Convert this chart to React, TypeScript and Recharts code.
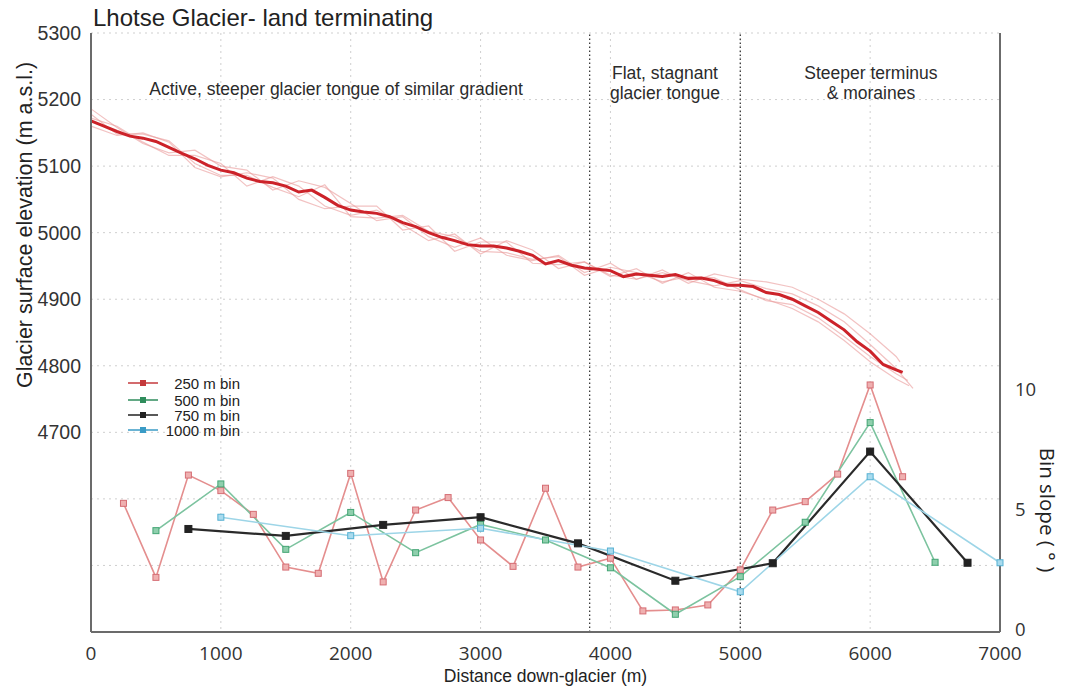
import { LineChart, Line, XAxis, YAxis, CartesianGrid, ReferenceLine, ReferenceDot, Legend } from 'recharts'

// centre-line surface profile (distance in m, elevation in m a.s.l.)
const profileDistance = [
  0, 100, 200, 300, 400, 500, 600, 700, 800, 900, 1000, 1100, 1200, 1300, 1400, 1500, 1600, 1700, 1800, 1900,
  2000, 2100, 2200, 2300, 2400, 2500, 2600, 2700, 2800, 2900, 3000, 3100, 3200, 3300, 3400, 3500, 3600, 3700,
  3800, 3900, 4000, 4100, 4200, 4300, 4400, 4500, 4600, 4700, 4800, 4900, 5000, 5100, 5200, 5300, 5400, 5500,
  5600, 5700, 5800, 5900, 6000, 6100, 6200, 6250,
]
const profileElevation = [
  5168, 5160, 5152, 5145, 5142, 5137, 5128, 5119, 5111, 5101, 5094, 5090, 5082, 5077, 5075, 5070, 5061, 5064, 5053, 5041,
  5034, 5031, 5029, 5024, 5015, 5009, 5000, 4993, 4988, 4982, 4980, 4980, 4977, 4972, 4966, 4953, 4958, 4951,
  4947, 4945, 4943, 4934, 4938, 4936, 4934, 4937, 4931, 4932, 4928, 4921, 4921, 4919, 4910, 4907, 4900, 4890,
  4880, 4867, 4854, 4836, 4822, 4802, 4794, 4790,
]

// individual DEM profiles drawn faintly behind the mean
const demDistance = [
  0, 200, 400, 600, 800, 1000, 1200, 1400, 1600, 1800, 2000, 2200, 2400, 2600, 2800, 3000, 3200, 3400, 3600, 3800,
  4000, 4200, 4400, 4600, 4800, 5000, 5200, 5400, 5600, 5800, 6000, 6200,
]
const demEnd = [6230, 6300, 6330, 6290]
const demA = [
  5186, 5158, 5134, 5120, 5124, 5100, 5094, 5064, 5078, 5068, 5044, 5018, 5024, 4994, 4978, 4992, 4966, 4958, 4966, 4940,
  4954, 4930, 4944, 4924, 4938, 4930, 4926, 4918, 4900, 4878, 4848, 4814, 4806,
]
const demB = [
  5160, 5146, 5150, 5136, 5098, 5084, 5090, 5082, 5050, 5036, 5040, 5040, 5004, 5010, 4972, 4986, 4986, 4954, 4952, 4956,
  4934, 4946, 4924, 4940, 4918, 4912, 4900, 4886, 4866, 4838, 4806, 4780, 4770,
]
const demC = [
  5172, 5160, 5136, 5116, 5116, 5104, 5070, 5084, 5070, 5040, 5026, 5034, 5012, 4988, 4998, 4968, 4988, 4974, 4946, 4956,
  4936, 4930, 4940, 4928, 4920, 4928, 4916, 4908, 4890, 4866, 4832, 4796, 4766,
]
const demD = [
  5178, 5148, 5148, 5138, 5104, 5086, 5086, 5068, 5054, 5072, 5024, 5022, 5026, 5002, 4994, 4972, 4970, 4960, 4964, 4936,
  4948, 4940, 4926, 4934, 4932, 4914, 4898, 4892, 4872, 4844, 4814, 4788, 4778,
]

// mean slope per bin (degrees), plotted at the bin's lower end
const bin250Dist = [
  250, 500, 750, 1000, 1250, 1500, 1750, 2000, 2250, 2500, 2750, 3000, 3250, 3500, 3750, 4000, 4250, 4500, 4750,
  5000, 5250, 5500, 5750, 6000, 6250,
]
const bin250Slope = [
  5.37, 2.28, 6.55, 5.9, 4.91, 2.71, 2.45, 6.62, 2.09, 5.09, 5.61, 3.84, 2.74, 6.0, 2.71, 3.08, 0.88, 0.92, 1.13,
  2.59, 5.09, 5.44, 6.59, 10.31, 6.48,
]
const bin500Dist = [500, 1000, 1500, 2000, 2500, 3000, 3500, 4000, 4500, 5000, 5500, 6000, 6500]
const bin500Slope = [4.23, 6.18, 3.45, 4.99, 3.31, 4.49, 3.84, 2.68, 0.74, 2.31, 4.58, 8.74, 2.91]
const bin750Dist = [750, 1500, 2250, 3000, 3750, 4500, 5250, 6000, 6750]
const bin750Slope = [4.3, 4.01, 4.47, 4.79, 3.7, 2.14, 2.87, 7.53, 2.89]
const bin1000Dist = [1000, 2000, 3000, 4000, 5000, 6000, 7000]
const bin1000Slope = [4.79, 4.02, 4.33, 3.38, 1.68, 6.48, 2.89]

const xTicks = [0, 1000, 2000, 3000, 4000, 5000, 6000, 7000]
const elevTicks = [4500, 4600, 4700, 4800, 4900, 5000, 5100, 5200, 5300]
const slopeTicks = [0, 5, 10]

// zone boundaries along the tongue
const zoneBreaks = [3840, 5000]

const toPoints = (xs: number[], ys: number[], key: string) => xs.map((x, i) => ({ d: x, [key]: ys[i] }))

const meanProfile = toPoints(profileDistance, profileElevation, 'e')
const demProfiles = [demA, demB, demC, demD].map((vals, k) =>
  toPoints([...demDistance, demEnd[k]], vals, 'e')
)

const bins = [
  { name: '250 m bin', data: toPoints(bin250Dist, bin250Slope, 's'), line: '#e48e8e', fill: '#efb0b0', edge: '#d56d74', key: '#c53a3c', width: 1.6, size: 6 },
  { name: '500 m bin', data: toPoints(bin500Dist, bin500Slope, 's'), line: '#7cc39f', fill: '#8fcfad', edge: '#43a574', key: '#2f8d5c', width: 1.6, size: 6 },
  { name: '750 m bin', data: toPoints(bin750Dist, bin750Slope, 's'), line: '#2a2a2a', fill: '#222222', edge: '#222222', key: '#222222', width: 2.2, size: 7 },
  { name: '1000 m bin', data: toPoints(bin1000Dist, bin1000Slope, 's'), line: '#9dd5e7', fill: '#a9dbee', edge: '#56b1d3', key: '#3a9bc6', width: 1.6, size: 6 },
]

const AXIS = '#6b6b6b'
const ARIAL = 'Liberation Sans, Arial, sans-serif'
const HUMANIST = 'Open Sans, Lato, sans-serif'

const squareDot = (fill: string, stroke: string, size: number) => (props: any) => {
  const { cx, cy, index } = props
  if (cx == null || cy == null) return <g key={`e-${index}`} />
  return (
    <rect key={`sq-${index}`} x={cx - size / 2} y={cy - size / 2} width={size} height={size}
      fill={fill} stroke={stroke} strokeWidth={1} />
  )
}

const zoneNote = (lines: string[]) => (props: any) => {
  const vb = props.viewBox || {}
  const cx = vb.x + (vb.width || 0) / 2
  const cy = vb.y + (vb.height || 0) / 2
  const start = cy - ((lines.length - 1) * 20) / 2
  return (
    <text x={cx} textAnchor="middle" fill="#2b2b2b" fontFamily={ARIAL} fontSize={17.5}>
      {lines.map((t, i) => (
        <tspan key={t} x={cx} y={start + i * 20} dominantBaseline="central">{t}</tspan>
      ))}
    </text>
  )
}

const BinLegend = () => (
  <svg width={130} height={70}>
    {bins.map((b, i) => {
      const y = [11, 28, 43, 58][i]
      return (
        <g key={b.name}>
          <line x1={8} x2={38} y1={y} y2={y} stroke={b.key} strokeWidth={1.5} />
          <rect x={20} y={y - 3} width={6} height={6} fill={b.key} />
          <text x={120} y={y} textAnchor="end" dominantBaseline="central" fontFamily={ARIAL} fontSize={15} fill="#222">
            {b.name}
          </text>
        </g>
      )
    })}
  </svg>
)

export default function App() {
  return (
    <div style={{ position: 'relative', width: 1054, height: 681 }}>
      <div style={{ position: 'absolute', left: 85, top: -2, fontFamily: ARIAL, fontSize: 24, lineHeight: 1, color: '#222', whiteSpace: 'nowrap' }}>
        Lhotse Glacier- land terminating
      </div>
      <LineChart width={1054} height={681} margin={{ top: 25, right: 0, bottom: 0, left: 0 }}>
        <CartesianGrid yAxisId="elev" stroke="#cfcfcf" strokeDasharray="2 4" strokeWidth={1} />
        <XAxis
          dataKey="d" type="number" domain={[0, 7000]} ticks={xTicks} allowDuplicatedCategory={false}
          height={57} axisLine={{ stroke: AXIS, strokeWidth: 2 }} tickLine={false} tickMargin={9}
          tick={{ fill: '#333', fontSize: 19, fontFamily: HUMANIST }}
        />
        <YAxis
          yAxisId="elev" width={83} domain={[4400, 5300]} ticks={elevTicks} allowDataOverflow
          axisLine={{ stroke: AXIS, strokeWidth: 2 }} tickLine={false} tickMargin={4}
          tickFormatter={(v: number) => (v >= 4700 ? String(v) : '')}
          tick={{ fill: '#333', fontSize: 19.5, fontFamily: ARIAL }}
          label={() => (
            <text x={17} y={217} transform="rotate(-90 17 217)" textAnchor="middle" dominantBaseline="central"
              fontFamily={ARIAL} fontSize={21.5} fill="#222">
              Glacier surface elevation (m a.s.l.)
            </text>
          )}
        />
        <YAxis
          yAxisId="slope" orientation="right" width={62} domain={[0, 25]} ticks={slopeTicks} allowDataOverflow
          axisLine={{ stroke: AXIS, strokeWidth: 2 }} tickLine={false} tickMargin={9}
          tick={{ fill: '#333', fontSize: 18.5, fontFamily: HUMANIST, dy: -3 }}
          label={() => (
            <text x={1040} y={502} transform="rotate(90 1040 502)" textAnchor="middle" dominantBaseline="central"
              fontFamily={HUMANIST} fontSize={20.5} fill="#222">
              Bin slope ( ° )
            </text>
          )}
        />
        {zoneBreaks.map((x) => (
          <ReferenceLine key={x} x={x} yAxisId="elev" stroke="#3a3a3a" strokeDasharray="1.5 2.5" strokeWidth={1.3} />
        ))}
        <ReferenceDot x={1887} y={5216} yAxisId="elev" r={1} fill="none" stroke="none"
          label={zoneNote(['Active, steeper glacier tongue of similar gradient'])} />
        <ReferenceDot x={4420} y={5225} yAxisId="elev" r={1} fill="none" stroke="none"
          label={zoneNote(['Flat, stagnant', 'glacier tongue'])} />
        <ReferenceDot x={6006} y={5225} yAxisId="elev" r={1} fill="none" stroke="none"
          label={zoneNote(['Steeper terminus', '& moraines'])} />

        {demProfiles.map((pts, i) => (
          <Line key={`dem-${i}`} data={pts} dataKey="e" yAxisId="elev" type="linear" stroke="#e99a9a"
            strokeOpacity={0.6} strokeWidth={1.2} dot={false} isAnimationActive={false} legendType="none" />
        ))}
        <Line data={meanProfile} dataKey="e" yAxisId="elev" type="linear" stroke="#cc2229" strokeWidth={3}
          dot={false} isAnimationActive={false} legendType="none" />

        {bins.map((b) => (
          <Line key={b.name} name={b.name} data={b.data} dataKey="s" yAxisId="slope" type="linear"
            stroke={b.line} strokeWidth={b.width} dot={squareDot(b.fill, b.edge, b.size)}
            isAnimationActive={false} />
        ))}

        <Legend layout="vertical" align="center" verticalAlign="middle" content={<BinLegend />}
          wrapperStyle={{ left: 112, top: 364, width: 130, height: 70 }} />
      </LineChart>
      <div style={{ position: 'absolute', left: 83, width: 909, top: 658, textAlign: 'center', fontFamily: ARIAL, fontSize: 17.5, lineHeight: '20px', color: '#222' }}>
        Distance down-glacier (m)
      </div>
    </div>
  )
}
